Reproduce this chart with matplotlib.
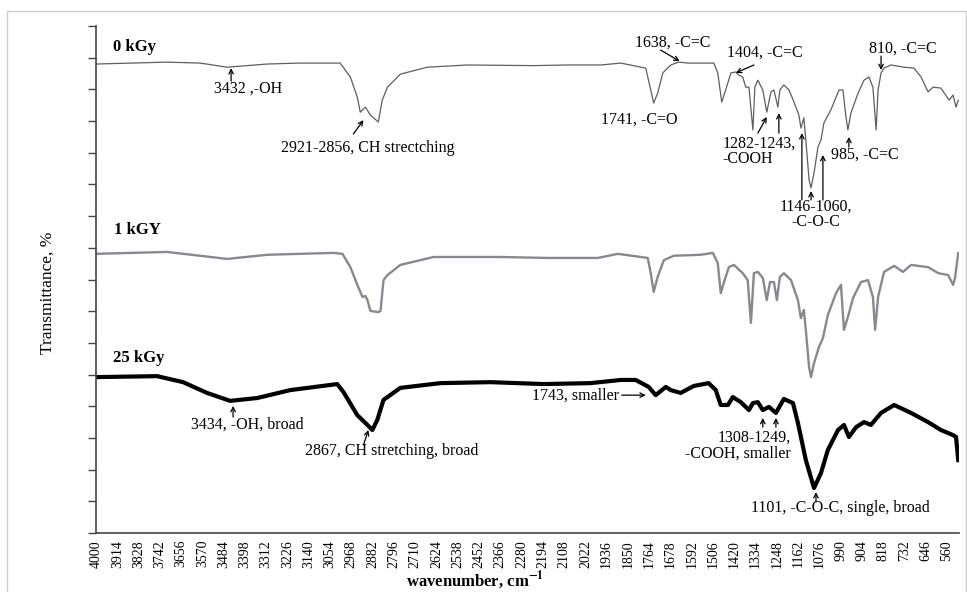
import matplotlib
matplotlib.use('Agg')
import matplotlib.pyplot as plt
import numpy as np
from matplotlib.patches import Rectangle

plt.rcParams['font.family'] = 'Liberation Serif'
plt.rcParams['mathtext.fontset'] = 'stix'

# wavenumber (cm-1) and transmittance (offset, arbitrary units)
wn_0 = [4000, 3713, 3579, 3470, 3308, 3174, 3013, 2972, 2944, 2932, 2911, 2891, 2859, 2843, 2822,
        2770, 2661, 2499, 2231, 2094, 1960, 1879, 1778, 1758, 1746, 1730, 1709, 1677, 1645, 1608,
        1503, 1487, 1471, 1455, 1434, 1414, 1402, 1386, 1374, 1361, 1345, 1337, 1325, 1305, 1289,
        1272, 1260, 1244, 1236, 1220, 1199, 1179, 1159, 1151, 1139, 1131, 1118, 1110, 1098, 1082,
        1070, 1058, 1030, 997, 981, 969, 961, 949, 920, 896, 876, 860, 847, 839, 827, 815, 787,
        734, 694, 665, 637, 617, 585, 552, 536, 524, 515]
tr_0 = [14.80, 14.86, 14.83, 14.70, 14.80, 14.83, 14.83, 14.39, 13.76, 13.28, 13.44, 13.19, 12.97, 13.66, 14.07,
        14.48, 14.70, 14.77, 14.75, 14.77, 14.77, 14.83, 14.67, 13.98, 13.57, 13.88, 14.52, 14.77, 14.86, 14.83,
        14.83, 14.52, 13.60, 13.98, 14.52, 14.55, 14.45, 14.39, 14.07, 14.07, 12.72, 14.07, 14.29, 13.98, 13.28,
        13.92, 13.98, 13.44, 13.98, 14.14, 13.98, 13.60, 13.19, 12.78, 13.10, 12.40, 11.14, 10.89, 11.36, 12.18,
        12.40, 12.94, 13.35, 13.98, 13.98, 13.13, 12.72, 13.25, 13.88, 14.29, 14.39, 14.07, 12.72, 13.98, 14.52, 14.67, 14.77,
        14.70, 14.67, 14.39, 13.92, 14.07, 14.04, 13.66, 13.82, 13.44, 13.66]

wn_1 = [4000, 3713, 3470, 3308, 3041, 3004, 2972, 2940, 2923, 2911, 2903, 2891, 2859, 2850, 2838,
        2822, 2770, 2636, 2365, 2171, 1972, 1891, 1770, 1758, 1746, 1730, 1705, 1665, 1556, 1507,
        1487, 1475, 1463, 1442, 1422, 1386, 1366, 1353, 1341, 1325, 1305, 1289, 1276, 1260, 1248,
        1236, 1220, 1191, 1163, 1151, 1139, 1131, 1118, 1110, 1098, 1078, 1062, 1042, 1009, 989,
        977, 961, 940, 908, 880, 860, 851, 839, 815, 774, 738, 706, 637, 596, 556, 536, 528, 515]
tr_1 = [8.81, 8.87, 8.65, 8.78, 8.84, 8.81, 8.39, 7.76, 7.45, 7.48, 7.35, 7.01, 6.97, 7.01, 7.98,
        8.14, 8.46, 8.71, 8.71, 8.68, 8.68, 8.81, 8.68, 8.20, 7.61, 8.08, 8.61, 8.75, 8.78, 8.84,
        8.52, 7.57, 7.89, 8.39, 8.46, 8.20, 7.98, 6.63, 8.20, 8.24, 8.05, 7.35, 7.92, 7.92, 7.35,
        8.08, 8.20, 7.98, 7.35, 6.78, 7.04, 6.41, 5.24, 4.92, 5.36, 5.87, 6.15, 6.88, 7.57, 7.83,
        6.41, 6.82, 7.42, 7.92, 7.98, 7.45, 6.41, 7.45, 8.24, 8.43, 8.24, 8.46, 8.39, 8.20, 8.14, 7.83, 8.05, 8.84]

wn_25 = [4000, 3753, 3648, 3551, 3458, 3348, 3215, 3025, 3000, 2944, 2903, 2883, 2863, 2838, 2770,
         2608, 2405, 2191, 2001, 1879, 1819, 1766, 1738, 1697, 1677, 1637, 1584, 1524, 1495, 1475,
         1446, 1426, 1394, 1361, 1345, 1325, 1305, 1280, 1252, 1220, 1183, 1163, 1131, 1098, 1070,
         1042, 1001, 977, 957, 928, 896, 868, 827, 774, 706, 637, 585, 536, 524, 515]
tr_25 = [4.92, 4.95, 4.76, 4.42, 4.17, 4.26, 4.51, 4.70, 4.45, 3.72, 3.41, 3.25, 3.57, 4.20, 4.58,
         4.73, 4.76, 4.70, 4.73, 4.83, 4.83, 4.61, 4.35, 4.61, 4.51, 4.42, 4.64, 4.73, 4.51, 4.04,
         4.04, 4.29, 4.13, 3.88, 4.10, 4.13, 3.88, 3.98, 3.79, 4.23, 4.10, 3.47, 2.30, 1.42, 1.89,
         2.62, 3.25, 3.41, 3.03, 3.34, 3.50, 3.41, 3.79, 4.04, 3.79, 3.50, 3.25, 3.09, 3.03, 2.30]

xtick_vals = np.arange(4000, 500, -86)

fig = plt.figure(figsize=(9.67, 5.92), dpi=100)
ax = fig.add_axes([96 / 967, 1 - 533 / 592, 863 / 967, 507 / 592])

ax.plot(wn_0, tr_0, color='#5e5e5e', lw=0.9)
ax.plot(wn_1, tr_1, color='#8b8690', lw=1.7)
ax.plot(wn_25, tr_25, color='black', lw=3)

ax.set_xlim(4000, 512)
ax.set_ylim(0, 16)
ax.set_xticks(xtick_vals)
ax.set_xticklabels([str(v) for v in xtick_vals], rotation=90, fontsize=10)
ax.set_yticks(range(17))
ax.set_yticklabels([])
ax.tick_params(axis='x', length=0, pad=5)
ax.tick_params(axis='y', direction='out', length=6, width=1, color='#444444')
for s in ['top', 'right']:
    ax.spines[s].set_visible(False)
for s in ['left', 'bottom']:
    ax.spines[s].set_color('#444444')
    ax.spines[s].set_linewidth(1.2)

# sample labels
ax.text(3930, 15.34, '0 kGy', fontsize=12, fontweight='bold', va='center')
ax.text(3926, 9.56, '1 kGY', fontsize=12, fontweight='bold', va='center')
ax.text(3930, 5.52, '25 kGy', fontsize=12, fontweight='bold', va='center')

fs = 11.5
def note(x, y, s, ha='center', ma='center'):
    ax.text(x, y, s, fontsize=fs, ha=ha, va='center', multialignment=ma, linespacing=0.95)

def arrow(x0, y0, x1, y1):
    ax.annotate('', xy=(x1, y1), xytext=(x0, y0),
                arrowprops=dict(arrowstyle='->', lw=0.9, color='black',
                                shrinkA=0, shrinkB=0, mutation_scale=8))

# 0 kGy
note(3385, 14.01, '3432 ,-OH')
arrow(3454, 14.26, 3454, 14.67)
note(2901, 12.15, '2921-2856, CH strectching')
arrow(2960, 12.59, 2919, 13.03)
note(1669, 15.46, '1638, -C=C')
arrow(1718, 15.24, 1641, 14.89)
note(1297, 15.15, '1404, -C=C')
arrow(1341, 14.77, 1414, 14.52)
note(738, 15.27, '810, -C=C')
arrow(827, 15.05, 827, 14.61)
note(1803, 13.06, '1741, -C=O')
note(1467, 12.05, '1282-1243,\n-COOH', ha='left', ma='left')
arrow(1325, 12.62, 1289, 13.13)
arrow(1240, 12.62, 1240, 13.25)
note(892, 11.93, '985, -C=C')
arrow(957, 12.18, 957, 12.50)
note(1090, 10.07, '1146-1060,\n-C-O-C')
arrow(1147, 10.51, 1147, 12.62)
arrow(1062, 10.51, 1062, 11.93)
arrow(1110, 10.51, 1110, 10.79)

# 25 kGy
note(1887, 4.35, '1743, smaller', ha='right')
arrow(1875, 4.35, 1778, 4.35)
note(3387, 3.41, '3434, -OH, broad')
arrow(3446, 3.66, 3446, 4.01)
note(2806, 2.59, '2867, CH stretching, broad')
arrow(2919, 2.78, 2899, 3.25)
note(1191, 2.76, '1308-1249,\n-COOH, smaller', ha='right', ma='right')
arrow(1305, 3.34, 1305, 3.63)
arrow(1252, 3.34, 1252, 3.63)
note(993, 0.79, '1101, -C-O-C, single, broad')
arrow(1090, 0.98, 1090, 1.29)

fig.text(48 / 967, 1 - 293 / 592, 'Transmittance, %', rotation=90, fontsize=12.5,
         ha='center', va='center')
fig.text(475 / 967, 1 - 591 / 592, r'wavenumber, cm$^{\mathbf{-1}}$', fontsize=12,
         fontweight='bold', ha='center', va='bottom')

fig.patches.append(Rectangle((7 / 967, -0.01), 959 / 967, 1 - 11 / 592 + 0.01,
                             transform=fig.transFigure, fill=False,
                             edgecolor='#cccccc', lw=1))

fig.savefig('out.png', dpi=100)
